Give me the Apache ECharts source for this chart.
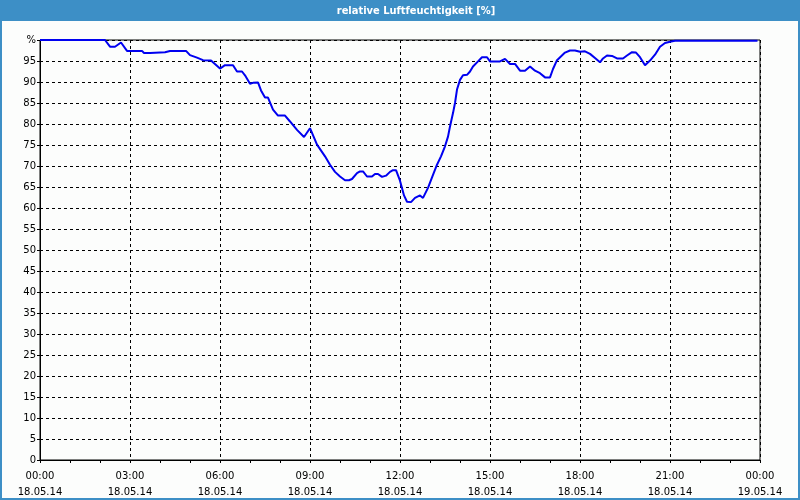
<!DOCTYPE html>
<html>
<head>
<meta charset="utf-8">
<script src="https://cdn.jsdelivr.net/npm/echarts@6/dist/echarts.min.js"></script>
<style>html,body{margin:0;padding:0;background:#fcfdfc}#c{width:800px;height:500px}</style>
</head>
<body>
<div id="c"></div>
<script>
var titleText = 'relative Luftfeuchtigkeit [%]';
var timeLabels = ['00:00','03:00','06:00','09:00','12:00','15:00','18:00','21:00','00:00'];
var dateLabels = ['18.05.14','18.05.14','18.05.14','18.05.14','18.05.14','18.05.14','18.05.14','18.05.14','19.05.14'];
var times = ['00:00','02:10','02:20','02:30','02:42','02:54','03:24','03:28','03:40','03:44','04:10','04:20','04:52','05:00','05:14','05:26','05:42','06:00','06:10','06:26','06:34','06:44','06:50','07:00','07:06','07:16','07:22','07:30','07:36','07:46','07:56','08:10','08:20','08:34','08:48','09:00','09:14','09:30','09:40','09:50','10:00','10:10','10:18','10:24','10:34','10:40','10:46','10:54','11:04','11:10','11:16','11:24','11:32','11:40','11:46','11:52','12:00','12:08','12:14','12:22','12:30','12:40','12:46','12:56','13:06','13:14','13:22','13:30','13:36','13:40','13:46','13:50','13:54','14:00','14:06','14:14','14:20','14:26','14:36','14:44','14:54','15:00','15:20','15:30','15:40','15:50','16:00','16:10','16:20','16:30','16:40','16:50','17:00','17:06','17:14','17:30','17:40','17:50','18:00','18:10','18:20','18:30','18:40','18:46','18:54','19:04','19:14','19:26','19:34','19:44','19:52','20:00','20:10','20:20','20:30','20:40','20:50','21:00','21:10','23:55'];
var humidity = [100,100,98.4,98.4,99.4,97.4,97.4,96.9,96.9,97.1,97.1,97.4,97.4,96.4,95.8,95.2,95.1,93.2,94.0,94.0,92.5,92.5,91.6,89.6,89.8,89.9,88.0,86.3,86.3,83.4,82.0,82.0,80.6,78.6,76.9,79.0,75.1,72.3,70.3,68.6,67.5,66.6,66.6,66.9,68.3,68.7,68.7,67.5,67.5,68.1,68.1,67.4,67.7,68.6,69.0,69.0,66.5,63.0,61.5,61.4,62.4,63.0,62.4,64.8,67.9,70.3,72.3,74.7,77.0,79.4,82.6,85.0,88.2,90.5,91.6,91.7,92.5,93.7,94.9,95.9,95.9,94.9,94.9,95.5,94.3,94.3,92.7,92.7,93.7,92.7,92.1,91.1,91.1,93.1,95.2,97.0,97.5,97.5,97.2,97.3,96.7,95.7,94.7,95.6,96.3,96.2,95.6,95.6,96.3,97.1,97.0,95.9,94.0,95.1,96.5,98.4,99.3,99.6,99.8,99.8];

function toMin(t){var p=t.split(':');return (+p[0])*60+(+p[1]);}
var seriesData = times.map(function(t,i){return [toMin(t), humidity[i]];});

var font = 'DejaVu Sans';
var chart = echarts.init(document.getElementById('c'), null, {renderer:'canvas'});
chart.setOption({
  animation:false,
  backgroundColor:'#fcfdfc',
  graphic:[
    {type:'rect', shape:{x:0,y:0,width:800,height:21}, style:{fill:'#3d8fc6'}, z:10},
    {type:'rect', shape:{x:1,y:1,width:798,height:498}, style:{fill:null, stroke:'#3d8fc6', lineWidth:2}, z:10},
    {type:'text', x:416, y:11, style:{text:titleText, fill:'#ffffff', font:'bold 11px "DejaVu Sans Condensed", "DejaVu Sans"', textAlign:'center', textVerticalAlign:'middle'}, z:11}
  ],
  grid:{left:40, top:40, width:720, height:420, show:true, borderColor:'#000', borderWidth:1, backgroundColor:'transparent'},
  xAxis:{
    type:'value', min:0, max:1440, interval:180,
    axisLine:{show:true, lineStyle:{color:'#000', width:1}},
    axisTick:{show:true, length:3, lineStyle:{color:'#000'}},
    minorTick:{show:true, splitNumber:3, length:3, lineStyle:{color:'#000'}},
    splitLine:{show:true, lineStyle:{color:'#000', type:[3,3], width:1}},
    axisLabel:{
      margin:8, color:'#000', fontFamily:font, fontSize:10, lineHeight:16,
      formatter:function(v){var i=Math.round(v/180);return timeLabels[i]+'\n'+dateLabels[i];}
    }
  },
  yAxis:{
    type:'value', min:0, max:100, interval:5,
    axisLine:{show:true, lineStyle:{color:'#000', width:1}},
    axisTick:{show:true, length:3, lineStyle:{color:'#000'}},
    splitLine:{show:true, lineStyle:{color:'#000', type:[3,3], width:1}},
    axisLabel:{margin:4, color:'#000', fontFamily:font, fontSize:10,
      formatter:function(v){return v===100?'%':String(v);}}
  },
  series:[{
    type:'line', data:seriesData, showSymbol:false, symbol:'none',
    lineStyle:{color:'#0000f0', width:2}, z:5
  }]
});
</script>
</body>
</html>
